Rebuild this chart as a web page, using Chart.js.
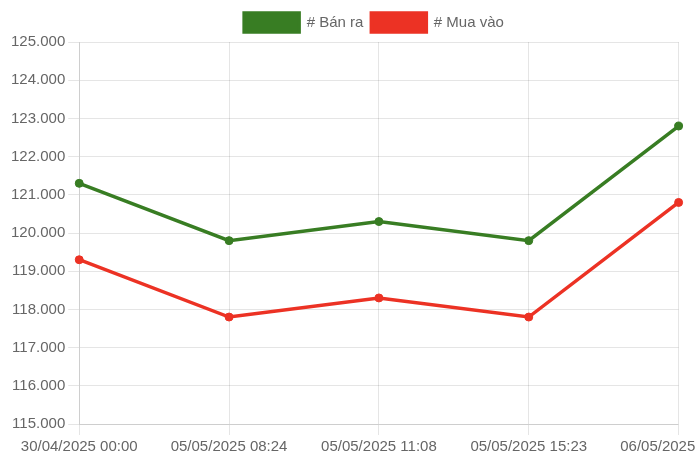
<!DOCTYPE html>
<html>
<head>
<meta charset="utf-8">
<script src="https://cdn.jsdelivr.net/npm/chart.js@4/dist/chart.umd.min.js"></script>
<style>
  html, body { margin: 0; padding: 0; background: #fff; overflow: hidden; }
  .wrap { width: 740px; height: 468px; }
</style>
</head>
<body>
<div class="wrap"><canvas id="giaChart"></canvas></div>
<script>
// nhan thoi gian
var thoi_gian = [
  "30/04/2025 00:00",
  "05/05/2025 08:24",
  "05/05/2025 11:08",
  "05/05/2025 15:23",
  "06/05/2025 00:00"
];
var gia_ban_ra = [121300, 119800, 120300, 119800, 122800];
var gia_mua_vao = [119300, 117800, 118300, 117800, 120800];

var mau_ban = 'rgb(56, 125, 35)';
var mau_mua = 'rgb(236, 50, 36)';

Chart.defaults.font.family = '"Liberation Sans", Arial, sans-serif';
Chart.defaults.font.size = 15;
Chart.defaults.color = '#666';

var ctx = document.getElementById("giaChart");

const datachart = {
  labels: thoi_gian,
  datasets: [{
    label: '# Bán ra',
    data: gia_ban_ra,
    borderColor: mau_ban,
    backgroundColor: mau_ban,
    borderWidth: 3.5,
    pointRadius: 4,
    pointBorderWidth: 1,
    tension: 0
  }, {
    label: '# Mua vào',
    data: gia_mua_vao,
    borderColor: mau_mua,
    backgroundColor: mau_mua,
    borderWidth: 3.5,
    pointRadius: 4,
    pointBorderWidth: 1,
    tension: 0
  }]
}

const config = {
  type: 'line',
  data: datachart,
  options: {
    responsive: true,
    maintainAspectRatio: false,
    animation: false,
    layout: { padding: { left: 8, top: 5, bottom: 9 } },
    plugins: {
      legend: {
        labels: { boxWidth: 55, boxHeight: 19, padding: 8 }
      }
    },
    scales: {
      x: {
        ticks: { maxRotation: 0, autoSkip: false },
        grid: { tickLength: 11 }
      },
      y: {
        min: 115000,
        max: 125000,
        ticks: {
          stepSize: 1000,
          callback: function (v) { return v.toLocaleString('de-DE'); }
        },
        grid: { tickLength: 11 }
      }
    }
  },
}

const myChart = new Chart(ctx, config);
</script>
</body>
</html>
